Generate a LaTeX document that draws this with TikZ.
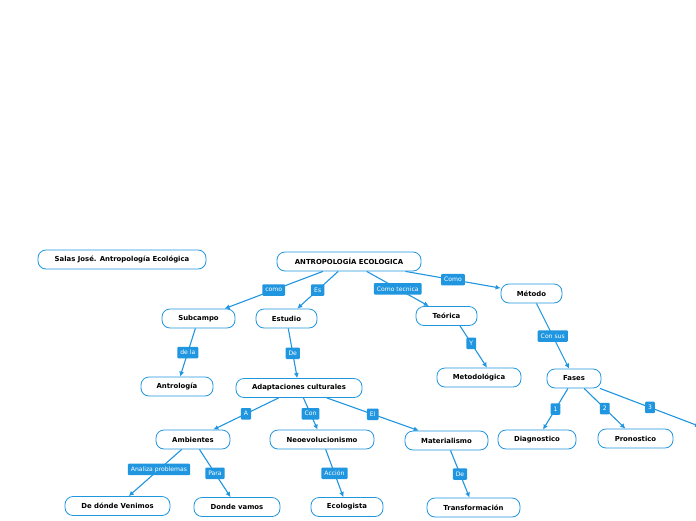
\documentclass[tikz,border=0pt]{standalone}
\usepackage{fontspec}
\setsansfont{DejaVu Sans}
\usetikzlibrary{arrows.meta}
\definecolor{mmblue}{RGB}{32,150,224}

\begin{document}
\begin{tikzpicture}[x=1pt,y=-1pt,
    topic/.style={draw=mmblue,line width=0.8pt,fill=white,rounded corners=8pt,
      minimum height=19pt,inner xsep=3pt,font=\sffamily\bfseries\fontsize{6.9}{8}\selectfont},
    tag/.style={fill=mmblue,text=white,rounded corners=1pt,minimum height=11.5pt,
      inner xsep=3pt,inner ysep=1pt,font=\sffamily\fontsize{6.1}{7}\selectfont},
    link/.style={mmblue,line width=1.1pt,-{Latex[length=5pt,width=5pt]}}]
    \fill[white] (0,0) rectangle (696,520);
    \useasboundingbox (0,0) rectangle (696,520);
    % topics
    \node[topic,minimum width=168pt] (salas) at (122,259.5) {Salas José. Antropología Ecológica};
    \node[topic,minimum width=144pt] (antro) at (349,261.5) {ANTROPOLOGÍA ECOLOGICA};
    \node[topic,minimum width=73pt] (subcampo) at (198.5,318.5) {Subcampo};
    \node[topic,minimum width=61pt] (estudio) at (286.5,318.5) {Estudio};
    \node[topic,minimum width=61pt] (teorica) at (446.5,316) {Teórica};
    \node[topic,minimum width=61pt] (metodo) at (531.5,293.5) {Método};
    \node[topic,minimum width=72pt] (antrologia) at (177,386.5) {Antrología};
    \node[topic,minimum width=126pt] (adapt) at (299,388) {Adaptaciones culturales};
    \node[topic,minimum width=84pt] (metodologica) at (479,377.5) {Metodológica};
    \node[topic,minimum width=54pt] (fases) at (574,378.5) {Fases};
    \node[topic,minimum width=74pt] (ambientes) at (193,439.5) {Ambientes};
    \node[topic,minimum width=104pt] (neoevol) at (322,439.5) {Neoevolucionismo};
    \node[topic,minimum width=83pt] (material) at (446.5,440.5) {Materialismo};
    \node[topic,minimum width=78pt] (diagnostico) at (537,439.5) {Diagnostico};
    \node[topic,minimum width=75pt] (pronostico) at (635.5,438.5) {Pronostico};
    \node[topic,minimum width=105pt] (venimos) at (117.5,506) {De dónde Venimos};
    \node[topic,minimum width=86pt] (vamos) at (237,507) {Donde vamos};
    \node[topic,minimum width=72pt] (ecologista) at (347,507) {Ecologista};
    \node[topic,minimum width=93pt] (transf) at (473.5,507.5) {Transformación};
    \coordinate (tercera) at (700,426.5);
    % links
    \draw[link] (antro) -- node[tag] {como} (subcampo);
    \draw[link] (antro) -- node[tag] {Es} (estudio);
    \draw[link] (antro) -- node[tag] {Como tecnica} (teorica);
    \draw[link] (antro) -- node[tag] {Como} (metodo);
    \draw[link] (subcampo) -- node[tag] {de la} (antrologia);
    \draw[link] (estudio) -- node[tag] {De} (adapt);
    \draw[link] ([xshift=13.5pt]teorica.south) -- node[tag,pos=0.42] {Y} ([xshift=8pt]metodologica.north);
    \draw[link] (metodo) -- node[tag] {Con sus} (fases);
    \draw[link] (adapt) -- node[tag] {A} (ambientes);
    \draw[link] (adapt) -- node[tag] {Con} (neoevol);
    \draw[link] (adapt) -- node[tag] {El} (material);
    \draw[link] (fases) -- node[tag] {1} (diagnostico);
    \draw[link] (fases) -- node[tag] {2} (pronostico);
    \draw[link] (fases) -- node[tag] {3} (tercera);
    \draw[link] (ambientes) -- node[tag,pos=0.43] {Analiza problemas} (venimos);
    \draw[link] (ambientes) -- node[tag] {Para} (vamos);
    \draw[link] (neoevol) -- node[tag] {Acción} (ecologista);
    \draw[link] (material) -- node[tag] {De} (transf);
\end{tikzpicture}
\end{document}
